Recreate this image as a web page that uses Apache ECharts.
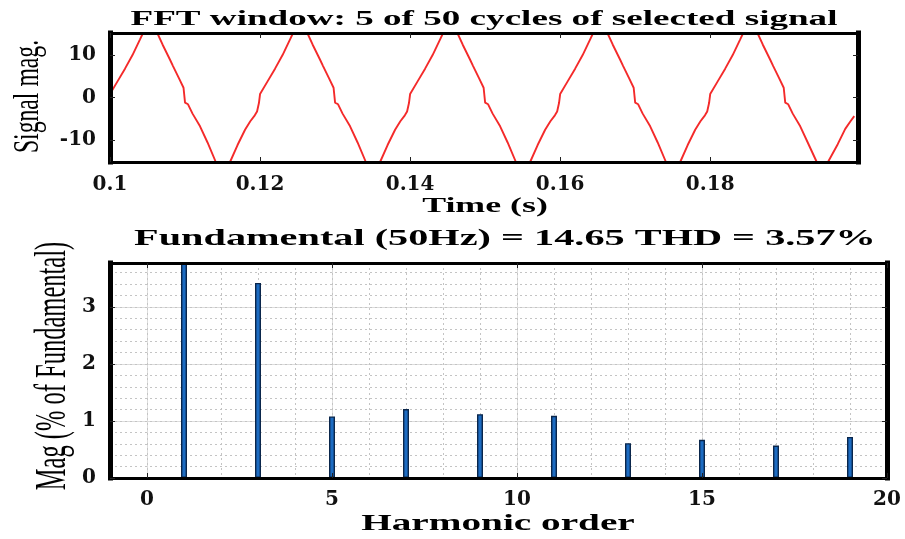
<!DOCTYPE html>
<html>
<head>
<meta charset="utf-8">
<script src="https://cdn.jsdelivr.net/npm/echarts@6/dist/echarts.min.js"></script>
<style>
  html, body { margin: 0; padding: 0; background: #fff; }
  #chart { width: 905px; height: 539px; }
</style>
</head>
<body>
<div id="chart"></div>
<script>
// Time window of the analysed signal (s), five 50 Hz cycles
const signalTime = [
  0.1, 0.101, 0.102, 0.103, 0.104, 0.1044, 0.1063, 0.107, 0.108, 0.1084, 0.1092, 0.1098, 0.11, 0.1104, 0.111, 0.112, 0.113, 0.1141, 0.116, 0.117, 0.118, 0.1187, 0.1193, 0.1196, 0.11985,
  0.12, 0.121, 0.122, 0.123, 0.124, 0.1244, 0.1263, 0.127, 0.128, 0.1284, 0.1292, 0.1298, 0.13, 0.1304, 0.131, 0.132, 0.133, 0.1341, 0.136, 0.137, 0.138, 0.1387, 0.1393, 0.1396, 0.13985,
  0.14, 0.141, 0.142, 0.143, 0.144, 0.1444, 0.1463, 0.147, 0.148, 0.1484, 0.1492, 0.1498, 0.15, 0.1504, 0.151, 0.152, 0.153, 0.1541, 0.156, 0.157, 0.158, 0.1587, 0.1593, 0.1596, 0.15985,
  0.16, 0.161, 0.162, 0.163, 0.164, 0.1644, 0.1663, 0.167, 0.168, 0.1684, 0.1692, 0.1698, 0.17, 0.1704, 0.171, 0.172, 0.173, 0.1741, 0.176, 0.177, 0.178, 0.1787, 0.1793, 0.1796, 0.17985,
  0.18, 0.181, 0.182, 0.183, 0.184, 0.1844, 0.1863, 0.187, 0.188, 0.1884, 0.1892, 0.1898, 0.19, 0.1904, 0.191, 0.192, 0.193, 0.1942, 0.1957, 0.197, 0.198, 0.1987, 0.1992
];
// Signal magnitude at each time sample
const signalMag = [
  0.8, 3.8, 6.8, 10.0, 13.7, 15.2, 15.2, 12.5, 8.9, 7.4, 4.5, 2.3, -1.2, -1.6, -3.8, -6.8, -10.6, -15.2, -15.2, -11.2, -7.6, -5.6, -4.2, -3.3, -1.3,
  0.8, 3.8, 6.8, 10.0, 13.7, 15.2, 15.2, 12.5, 8.9, 7.4, 4.5, 2.3, -1.2, -1.6, -3.8, -6.8, -10.6, -15.2, -15.2, -11.2, -7.6, -5.6, -4.2, -3.3, -1.3,
  0.8, 3.8, 6.8, 10.0, 13.7, 15.2, 15.2, 12.5, 8.9, 7.4, 4.5, 2.3, -1.2, -1.6, -3.8, -6.8, -10.6, -15.2, -15.2, -11.2, -7.6, -5.6, -4.2, -3.3, -1.3,
  0.8, 3.8, 6.8, 10.0, 13.7, 15.2, 15.2, 12.5, 8.9, 7.4, 4.5, 2.3, -1.2, -1.6, -3.8, -6.8, -10.6, -15.2, -15.2, -11.2, -7.6, -5.6, -4.2, -3.3, -1.3,
  0.8, 3.8, 6.8, 10.0, 13.7, 15.2, 15.2, 12.5, 8.9, 7.4, 4.5, 2.3, -1.2, -1.6, -3.8, -6.8, -10.6, -15.2, -15.2, -11.0, -7.4, -5.6, -4.4
];
const timeTicks = [0.1, 0.12, 0.14, 0.16, 0.18];
const signalTicks = [-10, 0, 10];

// Harmonic spectrum, % of fundamental
const harmonicOrder = [0, 1, 2, 3, 4, 5, 6, 7, 8, 9, 10, 11, 12, 13, 14, 15, 16, 17, 18, 19];
const harmonicMag = [0, 100, 0, 3.42, 0, 1.08, 0, 1.21, 0, 1.12, 0, 1.09, 0, 0.61, 0, 0.67, 0, 0.57, 0, 0.72];
const orderTicks = [0, 5, 10, 15, 20];
const magTicks = [0, 1, 2, 3];

const topTitle = 'FFT window: 5 of 50 cycles of selected signal';
const bottomTitle = 'Fundamental (50Hz) = 14.65 THD = 3.57%';

const labelFont = { fontFamily: 'DejaVu Serif', fontWeight: 'bold', fontSize: 20, color: '#111' };
const frameLine = w => ({ show: true, onZero: false, lineStyle: { color: '#000', width: w, cap: 'square' } });
const innerTicks = vals => ({ show: true, inside: true, length: 5, customValues: vals, lineStyle: { color: '#222', width: 1 } });

// Box frame with inward ticks; labels only on the bottom and left sides
function frameAxis(gridIndex, min, max, ticks, position, labelMargin) {
  return {
    gridIndex, type: 'value', min, max, position, z: 3,
    axisLine: frameLine(position === 'left' || position === 'right' ? 5 : 3),
    axisTick: innerTicks(ticks),
    axisLabel: labelMargin == null ? { show: false } : Object.assign({ show: true, customValues: ticks, margin: labelMargin }, labelFont),
    splitLine: { show: false }
  };
}
// Hidden axis used only for its grid lines, kept beneath the bars
function gridAxis(gridIndex, min, max, position, extra, lineStyle) {
  return Object.assign({
    gridIndex, type: 'value', min, max, position, z: 0,
    axisLine: { show: false, onZero: false },
    axisLabel: { show: false },
    splitLine: { show: true, lineStyle }
  }, extra);
}

const majorStyle = { color: '#dcdcdc', width: 1 };
const minorStyle = { color: '#c4c4c4', width: 1, type: [2, 3] };

const option = {
  animation: false,
  backgroundColor: '#fff',
  grid: [
    { left: 110, top: 33, width: 748, height: 129 },
    { left: 110, top: 263, width: 777, height: 215 }
  ],
  xAxis: [
    frameAxis(0, 0.1, 0.1997, timeTicks, 'bottom', 13),
    frameAxis(0, 0.1, 0.1997, timeTicks, 'top', null),
    frameAxis(1, -1, 20, orderTicks, 'bottom', 12),
    frameAxis(1, -1, 20, orderTicks, 'top', null),
    gridAxis(1, -1, 20, 'bottom', { axisTick: { show: false, customValues: orderTicks } }, majorStyle),
    gridAxis(1, -1, 20, 'bottom', { interval: 1, axisTick: { show: false } }, minorStyle)
  ],
  yAxis: [
    frameAxis(0, -15.2, 15.2, signalTicks, 'left', 14),
    frameAxis(0, -15.2, 15.2, signalTicks, 'right', null),
    frameAxis(1, 0, 3.77, magTicks, 'left', 14),
    frameAxis(1, 0, 3.77, magTicks, 'right', null),
    gridAxis(1, 0, 3.77, 'left', { axisTick: { show: false, customValues: magTicks } }, majorStyle),
    gridAxis(1, 0, 3.77, 'left', { interval: 0.2, axisTick: { show: false } }, minorStyle)
  ],
  series: [
    {
      type: 'line',
      xAxisIndex: 0, yAxisIndex: 0,
      data: signalTime.map((t, i) => [t, signalMag[i]]),
      symbol: 'none',
      clip: true,
      lineStyle: { color: '#f42a2a', width: 1.9 },
      z: 2
    },
    {
      type: 'bar',
      xAxisIndex: 2, yAxisIndex: 2,
      data: harmonicOrder.map((h, i) => [h, harmonicMag[i]]),
      barWidth: 6,
      clip: true,
      itemStyle: { color: '#1d6cc2', borderColor: '#0a264b', borderWidth: 1.4 },
      z: 2
    }
  ],
  graphic: [
    { type: 'text', x: 484, y: 19.5, scaleX: 1.81, z: 10,
      style: { text: topTitle, font: 'bold 20.5px "Liberation Serif"', fill: '#000', align: 'center', verticalAlign: 'middle' } },
    { type: 'text', x: 485, y: 206.5, scaleX: 1.79, z: 10,
      style: { text: 'Time (s)', font: 'bold 20px "Liberation Serif"', fill: '#000', align: 'center', verticalAlign: 'middle' } },
    { type: 'text', x: 505, y: 239, scaleX: 1.79, z: 10,
      style: { text: bottomTitle, font: 'bold 22.5px "Liberation Serif"', fill: '#000', align: 'center', verticalAlign: 'middle' } },
    { type: 'text', x: 498, y: 524, scaleX: 1.73, z: 10,
      style: { text: 'Harmonic order', font: 'bold 22.7px "Liberation Serif"', fill: '#000', align: 'center', verticalAlign: 'middle' } },
    { type: 'text', x: 28.5, y: 96.5, rotation: Math.PI / 2, scaleY: 1.55, z: 10,
      style: { text: 'Signal mag.', font: '23.7px "Liberation Serif"', fill: '#000', align: 'center', verticalAlign: 'middle' } },
    { type: 'text', x: 53, y: 366, rotation: Math.PI / 2, scaleY: 1.8, z: 10,
      style: { text: 'Mag (% of Fundamental)', font: '24.5px "Liberation Serif"', fill: '#000', align: 'center', verticalAlign: 'middle' } }
  ]
};

const chart = echarts.init(document.getElementById('chart'), null, { renderer: 'canvas' });
chart.setOption(option);
</script>
</body>
</html>
